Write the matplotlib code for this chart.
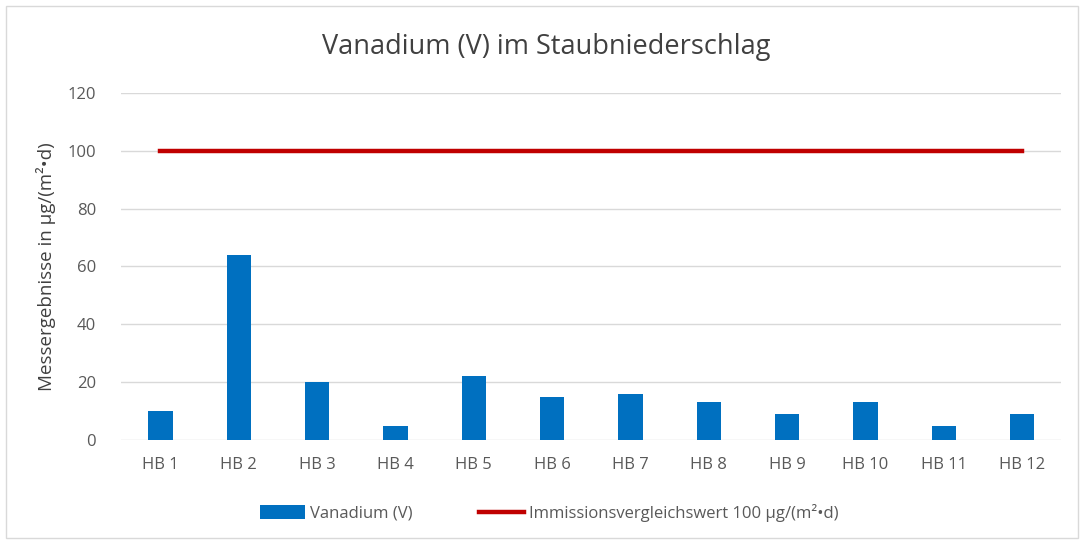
import matplotlib.pyplot as plt
import numpy as np

# --- data -----------------------------------------------------------------
stations = ["HB 1", "HB 2", "HB 3", "HB 4", "HB 5", "HB 6",
            "HB 7", "HB 8", "HB 9", "HB 10", "HB 11", "HB 12"]
vanadium = [10, 64, 20, 5, 22, 15, 16, 13, 9, 13, 5, 9]
limit = [100] * len(stations)
yticks = [0, 20, 40, 60, 80, 100, 120]
# --------------------------------------------------------------------------

plt.rcParams['font.family'] = ['Open Sans', 'DejaVu Sans']
grey = "#595959"

fig = plt.figure(figsize=(10.82, 5.40), dpi=100)
ax = fig.add_axes([0.112, 0.185, 0.869, 0.643])

x = np.arange(len(stations))
bars = ax.bar(x, vanadium, width=0.31, color="#0070C0", zorder=2)
line, = ax.plot(x, limit, color="#C00000", lw=3.2, zorder=3)

ax.set_xlim(-0.5, len(stations) - 0.5)
ax.set_ylim(0, 120)
ax.set_yticks(yticks)
ax.set_xticks(x, stations)
ax.grid(axis="y", color="#D9D9D9", lw=1, zorder=0)
for s in ax.spines.values():
    s.set_visible(False)
ax.tick_params(length=0, colors=grey, labelsize=12, pad=12)
ax.tick_params(axis="y", pad=18)

ax.set_ylabel("Messergebnisse in µg/(m²•d)", color="#404040", fontsize=13.5, labelpad=8)
fig.text(0.505, 0.913, "Vanadium (V) im Staubniederschlag", ha="center", va="center",
         fontsize=19.5, color="#404040")

fig.legend([bars, line], ["Vanadium (V)", "Immissionsvergleichswert 100 µg/(m²•d)"],
           loc="center", bbox_to_anchor=(0.508, 0.05), ncol=2, frameon=False,
           fontsize=12, labelcolor=grey, handlelength=2.7, handleheight=0.9,
           columnspacing=4.0, handletextpad=0.3)

fig.patches.append(plt.Rectangle((0.006, 0.004), 0.99, 0.985, transform=fig.transFigure,
                                 fill=False, edgecolor="#D9D9D9", lw=1))

fig.savefig("out.png", dpi=100)
